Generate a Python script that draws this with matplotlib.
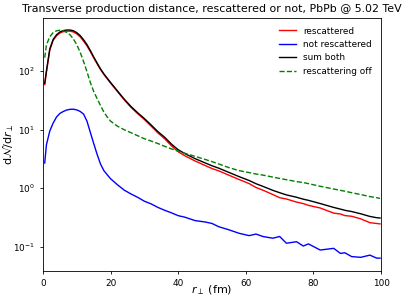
import numpy as np
import matplotlib
matplotlib.use("Agg")
import matplotlib.pyplot as plt

# bin centres in r_perp (fm)
r = [0.5, 1, 2, 3, 4, 5, 6, 7, 8, 9, 10, 11, 12, 13, 14, 15, 16, 17, 18, 19, 20,
     22, 24, 26, 28, 30, 32, 34, 36, 38, 40, 42, 45, 48, 50, 52, 55, 58, 61, 63,
     65, 68, 70, 72, 75, 77, 78.5, 82, 86, 88, 89.3, 91.3, 94, 96.7, 98.7, 99.7]

rescattered = [59, 95, 230, 337, 403, 449, 474, 483, 483, 468, 433, 385, 326, 271,
               216, 169, 134, 107, 88, 74, 62.5, 45, 32.5, 24.2, 18.8, 14.9, 11.5,
               8.8, 7.0, 5.3, 4.2, 3.58, 2.92, 2.44, 2.17, 1.98, 1.67, 1.41, 1.2,
               1.03, 0.93, 0.78, 0.69, 0.655, 0.58, 0.547, 0.51, 0.46, 0.376, 0.363,
               0.341, 0.332, 0.30, 0.258, 0.25, 0.246]

not_rescattered = [2.7, 5.5, 9.5, 13, 16.5, 19, 20.5, 21.7, 22.3, 22.4, 21.8, 20.5,
                   18.5, 14, 9, 5.8, 3.8, 2.6, 2.0, 1.7, 1.45, 1.15, 0.93, 0.8, 0.7,
                   0.6, 0.54, 0.47, 0.42, 0.38, 0.34, 0.32, 0.28, 0.265, 0.25, 0.22,
                   0.195, 0.17, 0.155, 0.165, 0.15, 0.14, 0.15, 0.115, 0.122, 0.103,
                   0.112, 0.088, 0.094, 0.077, 0.079, 0.068, 0.066, 0.072, 0.064, 0.064]

rescattering_off = [170, 280, 390, 455, 490, 500, 490, 460, 418, 355, 282, 210, 146,
                    98, 64, 45, 34, 26, 20, 16.5, 14, 11.5, 10, 8.9, 7.9, 7.0, 6.4,
                    5.8, 5.2, 4.7, 4.3, 3.95, 3.5, 3.1, 2.85, 2.6, 2.25, 2.0, 1.85,
                    1.75, 1.68, 1.55, 1.47, 1.4, 1.3, 1.25, 1.2, 1.08, 0.97, 0.92,
                    0.89, 0.84, 0.78, 0.72, 0.69, 0.67]

sum_both = np.array(rescattered) + np.array(not_rescattered)

fig = plt.figure(figsize=(4.07, 3.02), dpi=100)
ax = fig.add_axes([0.1057, 0.1036, 0.8305, 0.8378])

lw = 1.0
ax.plot(r, rescattered, color='red', lw=lw, label='rescattered')
ax.plot(r, not_rescattered, color='blue', lw=lw, label='not rescattered')
ax.plot(r, sum_both, color='black', lw=lw, label='sum both')
ax.plot(r, rescattering_off, color='green', lw=lw, ls='--', label='rescattering off')

ax.set_yscale('log')
ax.set_xlim(0, 100)
ax.set_ylim(0.039, 820)
ax.minorticks_off()
ax.tick_params(labelsize=6.4, width=0.6, length=2.5)
for s in ax.spines.values():
    s.set_linewidth(0.6)

ax.set_xlabel(r'$r_\perp$ (fm)', fontsize=8)
ax.set_ylabel(r'd$\mathcal{N}$/d$r_\perp$', fontsize=8)
ax.xaxis.set_label_coords(0.5, -0.05)
ax.yaxis.set_label_coords(-0.08, 0.5)
ax.set_title('Transverse production distance, rescattered or not, PbPb @ 5.02 TeV',
             fontsize=7.9, pad=4)
ax.legend(loc='upper right', frameon=False, fontsize=6.4, handlelength=2.0,
          borderaxespad=0.6)

fig.savefig('out.png', dpi=100)
